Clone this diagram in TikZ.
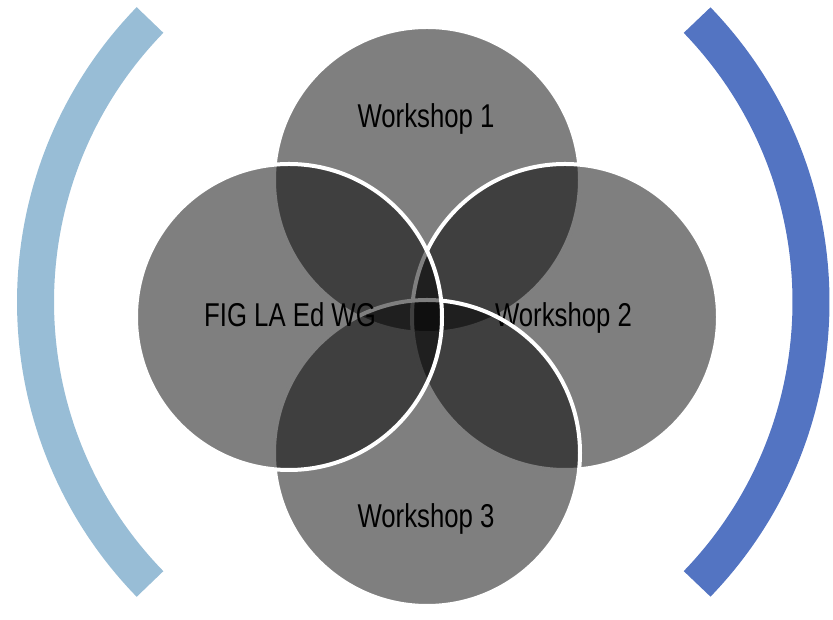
\documentclass[tikz,border=0pt]{standalone}
\usepackage{fontspec}
\newfontfamily\labelfont[FakeStretch=0.78]{Liberation Sans}
\definecolor{lblue}{RGB}{152,189,214}
\definecolor{dblue}{RGB}{83,116,194}
\begin{document}
\begin{tikzpicture}[x=1pt,y=1pt,
  venn/.style={draw=white, line width=4pt, fill=black, fill opacity=0.5},
  lbl/.style={font=\labelfont\fontsize{33}{36}\selectfont, text=black, anchor=base, inner sep=0pt},
  bracket/.style={line width=37pt, line cap=butt}]
\useasboundingbox (0,0) rectangle (833,620);
\coordinate (cT) at (427,440);
\coordinate (cR) at (565,303);
\coordinate (cB) at (427,167);
\coordinate (cL) at (289,303);
\coordinate (aL) at (440,318);
\coordinate (aR) at (405.2,318);
\draw[bracket, lblue] (aL) ++(135.8:404.5) arc[start angle=135.8, end angle=224.2, radius=404.5];
\draw[bracket, dblue] (aR) ++(-44:405.8) arc[start angle=-44, end angle=44, radius=405.8];
\path[venn] (cT) circle[radius=153];
\node[lbl] (t1) at (426,492.3) {Workshop 1};
\path[venn] (cR) circle[radius=153];
\node[lbl] (t2) at (563.5,293.3) {Workshop 2};
\path[venn] (cB) circle[radius=153];
\node[lbl] (t3) at (426,92.3) {Workshop 3};
\path[venn] (cL) circle[radius=153];
\node[lbl] (t4) at (290,293.3) {FIG LA Ed WG};
\end{tikzpicture}
\end{document}
